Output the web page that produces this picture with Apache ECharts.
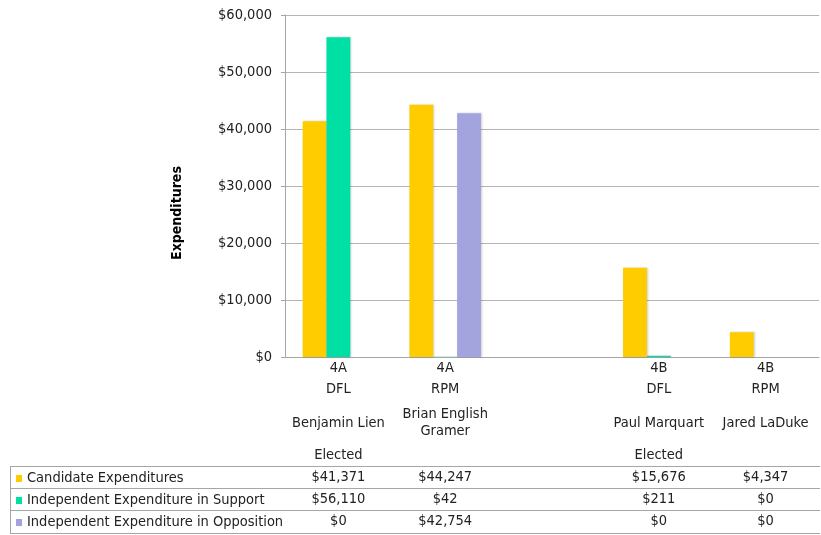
<!DOCTYPE html>
<html>
<head>
<meta charset="utf-8">
<script src="https://cdn.jsdelivr.net/npm/echarts@6/dist/echarts.min.js"></script>
<style>
  html, body { margin: 0; padding: 0; background: #fff; }
  #chart { width: 821px; height: 535px; }
</style>
</head>
<body>
<div id="chart"></div>
<script>
var districts = ['4A', '4A', '', '4B', '4B'];
var parties = ['DFL', 'RPM', '', 'DFL', 'RPM'];
var names = ['Benjamin Lien', 'Brian English\nGramer', '', 'Paul Marquart', 'Jared LaDuke'];
var electedRow = ['Elected', '', '', 'Elected', ''];
var candidateExp = [41371, 44247, null, 15676, 4347];
var supportExp = [56110, 42, null, 211, 0];
var oppositionExp = [0, 42754, null, 0, 0];
var yTicks = [0, 10000, 20000, 30000, 40000, 50000, 60000];

var FONT = 'DejaVu Sans Condensed';
var SIZE = 14.5;
var LINE = '#a6a6a6';
var TEXT = '#222';
var categories = [0, 1, 2, 3, 4];

function money(v) {
    if (v === null || v === undefined) return '';
    return '$' + v.toLocaleString('en-US');
}

// one hidden x axis per text row of the table under the plot
function rowAxis(offset, texts) {
    return {
        type: 'category',
        data: categories,
        position: 'bottom',
        offset: offset,
        axisLine: { show: false },
        axisTick: { show: false },
        axisLabel: {
            margin: 0,
            interval: 0,
            verticalAlign: 'middle',
            fontFamily: FONT,
            fontSize: SIZE,
            lineHeight: 17,
            color: TEXT,
            formatter: function(v, i) { return texts[i]; }
        }
    };
}

var chart = echarts.init(document.getElementById('chart'));

var barStyle = function(color) {
    return {
        color: color,
        shadowColor: 'rgba(0,0,0,0.2)',
        shadowBlur: 2,
        shadowOffsetX: 1
    };
};

chart.setOption({
    animation: false,
    grid: { left: 285, right: 2, top: 15, bottom: 178 },
    legend: {
        orient: 'vertical',
        left: 16,
        top: 471,
        padding: 0,
        itemWidth: 6,
        itemHeight: 7,
        itemGap: 7,
        icon: 'rect',
        selectedMode: false,
        textStyle: { fontFamily: FONT, fontSize: SIZE, lineHeight: 15, color: TEXT },
        data: ['Candidate Expenditures', 'Independent Expenditure in Support', 'Independent Expenditure in Opposition']
    },
    xAxis: [
        {
            type: 'category',
            data: categories,
            axisLine: { lineStyle: { color: LINE } },
            axisTick: { length: 176, lineStyle: { color: LINE } },
            axisLabel: {
                margin: 11,
                interval: 0,
                verticalAlign: 'middle',
                fontFamily: FONT,
                fontSize: SIZE,
                color: TEXT,
                formatter: function(v, i) { return districts[i]; }
            }
        },
        rowAxis(32, parties),
        rowAxis(66, names),
        rowAxis(98, electedRow),
        rowAxis(120, candidateExp.map(money)),
        rowAxis(142, supportExp.map(money)),
        rowAxis(164, oppositionExp.map(money))
    ],
    yAxis: {
        type: 'value',
        min: yTicks[0],
        max: yTicks[yTicks.length - 1],
        interval: yTicks[1] - yTicks[0],
        name: 'Expenditures',
        nameLocation: 'middle',
        nameGap: 101,
        nameRotate: 90,
        nameTextStyle: {
            fontFamily: FONT, fontSize: 14, fontWeight: 'bold', color: '#000',
            padding: [0, 54, 0, 0]
        },
        axisLine: { show: true, lineStyle: { color: LINE } },
        axisTick: { show: true, length: 4, lineStyle: { color: LINE } },
        splitLine: { lineStyle: { color: '#b4b4b4' } },
        axisLabel: {
            margin: 13,
            fontFamily: FONT,
            fontSize: SIZE,
            color: TEXT,
            formatter: function(v) { return money(v); }
        }
    },
    series: [
        {
            name: 'Candidate Expenditures',
            type: 'bar',
            data: candidateExp,
            barGap: '0%',
            barCategoryGap: '33%',
            itemStyle: barStyle('#ffcc00')
        },
        {
            name: 'Independent Expenditure in Support',
            type: 'bar',
            data: supportExp,
            itemStyle: barStyle('#00e0a4')
        },
        {
            name: 'Independent Expenditure in Opposition',
            type: 'bar',
            data: oppositionExp,
            itemStyle: barStyle('#a3a3de')
        }
    ],
    graphic: [
        { type: 'line', shape: { x1: 10, y1: 466.5, x2: 820, y2: 466.5 }, style: { stroke: LINE } },
        { type: 'line', shape: { x1: 10, y1: 488.5, x2: 820, y2: 488.5 }, style: { stroke: LINE } },
        { type: 'line', shape: { x1: 10, y1: 510.5, x2: 820, y2: 510.5 }, style: { stroke: LINE } },
        { type: 'line', shape: { x1: 10, y1: 533.5, x2: 820, y2: 533.5 }, style: { stroke: LINE } },
        { type: 'line', shape: { x1: 10.5, y1: 466, x2: 10.5, y2: 534 }, style: { stroke: LINE } }
    ]
});
</script>
</body>
</html>
